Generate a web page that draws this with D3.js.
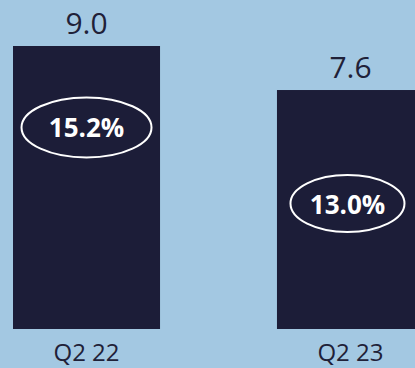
<!DOCTYPE html>
<html>
<head>
<meta charset="utf-8">
<script src="https://cdn.jsdelivr.net/npm/d3@7"></script>
<style>
  html, body { margin: 0; padding: 0; background: #a3c8e2; }
  svg { display: block; }
</style>
</head>
<body>
<svg id="chart" width="415" height="368"></svg>
<script>
// Quarterly values and their margin badges
const quarters = ["Q2 22", "Q2 23"];
const values = [9.0, 7.6];
const valueLabels = ["9.0", "7.6"];
const marginLabels = ["15.2%", "13.0%"];

// Badge layout (value level of badge centre, ellipse radii)
const badgeLevel = [6.41, 3.99];
const badgeRx = [65, 57];
const badgeRy = [30, 28.5];

const svg = d3.select("#chart");

const x = d3.scaleBand()
  .domain(quarters)
  .range([13, 424])
  .paddingInner(0.443)
  .paddingOuter(0);

const y = d3.scaleLinear()
  .domain([0, 9.0])
  .range([329, 46]);

const data = quarters.map((q, i) => ({
  q, v: values[i], label: valueLabels[i], margin: marginLabels[i],
  level: badgeLevel[i], rx: badgeRx[i], ry: badgeRy[i]
}));

const g = svg.append("g");

// Bars
g.selectAll("rect.bar")
  .data(data)
  .join("rect")
  .attr("class", "bar")
  .attr("x", d => x(d.q))
  .attr("y", d => y(d.v))
  .attr("width", x.bandwidth())
  .attr("height", d => y(0) - y(d.v))
  .attr("fill", "#1c1d38");

// Value labels above bars
g.selectAll("text.val")
  .data(data)
  .join("text")
  .attr("class", "val")
  .attr("x", d => x(d.q) + x.bandwidth() / 2)
  .attr("y", d => y(d.v) - 12)
  .attr("text-anchor", "middle")
  .attr("font-family", "'Open Sans', sans-serif")
  .attr("font-size", 30)
  .attr("fill", "#1f2138")
  .text(d => d.label);

// Margin badges
const badges = g.selectAll("g.badge")
  .data(data)
  .join("g")
  .attr("class", "badge")
  .attr("transform", d => `translate(${x(d.q) + x.bandwidth() / 2 - (d.q === "Q2 23" ? 3 : 0)},${y(d.level)})`);

badges.append("ellipse")
  .attr("rx", d => d.rx)
  .attr("ry", d => d.ry)
  .attr("fill", "none")
  .attr("stroke", "#ffffff")
  .attr("stroke-width", 2);

badges.append("text")
  .attr("text-anchor", "middle")
  .attr("dy", 10)
  .attr("font-family", "'Open Sans', sans-serif")
  .attr("font-weight", 700)
  .attr("font-size", 26)
  .attr("fill", "#ffffff")
  .text(d => d.margin);

// Category axis labels
const xAxis = d3.axisBottom(x).tickSize(0).tickPadding(0);
const axisG = svg.append("g")
  .attr("transform", `translate(0,${y(0)})`)
  .call(xAxis);
axisG.select(".domain").remove();
axisG.selectAll("text")
  .attr("y", 32)
  .attr("dy", 0)
  .attr("font-family", "'Open Sans', sans-serif")
  .attr("font-size", 24)
  .attr("fill", "#1f2138");
</script>
</body>
</html>
